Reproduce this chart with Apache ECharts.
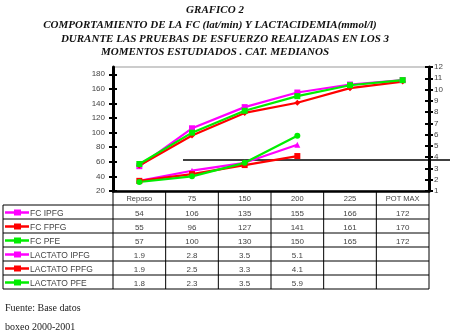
<!DOCTYPE html>
<html><head><meta charset="utf-8">
<script src="https://cdn.jsdelivr.net/npm/echarts@6/dist/echarts.min.js"></script>
<style>html,body{margin:0;padding:0;background:#fff}#c{width:450px;height:336px}</style>
</head><body><div id="c"></div>
<script>
const categories = ['Reposo', '75', '150', '200', '225', 'POT MAX'];
const fcIPFG = [54, 106, 135, 155, 166, 172];
const fcFPFG = [55, 96, 127, 141, 161, 170];
const fcPFE = [57, 100, 130, 150, 165, 172];
const lacIPFG = [1.9, 2.8, 3.5, 5.1];
const lacFPFG = [1.9, 2.5, 3.3, 4.1];
const lacPFE = [1.8, 2.3, 3.5, 5.9];
const fcTicks = [20, 40, 60, 80, 100, 120, 140, 160, 180];
const lacTicks = [1, 2, 3, 4, 5, 6, 7, 8, 9, 10, 11, 12];
const seriesNames = ['FC IPFG', 'FC FPFG', 'FC PFE', 'LACTATO IPFG', 'LACTATO FPFG', 'LACTATO PFE'];
const lactateThreshold = 3.75;
const titleLines = ['GRAFICO 2', 'COMPORTAMIENTO DE LA FC (lat/min) Y LACTACIDEMIA(mmol/l)', 'DURANTE LAS PRUEBAS DE ESFUERZO REALIZADAS EN LOS 3', 'MOMENTOS ESTUDIADOS . CAT. MEDIANOS'];
const footerLines = ['Fuente: Base datos', 'boxeo 2000-2001'];

const defs = [
  { name: seriesNames[0], data: fcIPFG, axis: 0, color: '#ff00ff', symbol: 'rect', dec: 0 },
  { name: seriesNames[1], data: fcFPFG, axis: 0, color: '#ff0000', symbol: 'diamond', dec: 0 },
  { name: seriesNames[2], data: fcPFE, axis: 0, color: '#00ee00', symbol: 'rect', dec: 0 },
  { name: seriesNames[3], data: lacIPFG, axis: 1, color: '#ff00ff', symbol: 'triangle', dec: 1 },
  { name: seriesNames[4], data: lacFPFG, axis: 1, color: '#ff0000', symbol: 'rect', dec: 1 },
  { name: seriesNames[5], data: lacPFE, axis: 1, color: '#00ee00', symbol: 'circle', dec: 1 }
];

const chart = echarts.init(document.getElementById('c'), null, { renderer: 'canvas' });
const lblFont = { fontFamily: 'Liberation Sans, Arial, sans-serif', fontSize: 8, color: '#444' };

function yAx(pos, min, max, ticks, inside, showLabel) {
  return {
    type: 'value', position: pos, min: min, max: max, interval: 1 * (ticks[1] - ticks[0]),
    axisLine: { show: !inside, lineStyle: { color: '#000', width: 3 } },
    axisTick: { show: true, inside: inside, length: 4, customValues: ticks, lineStyle: { color: '#000', width: 2 } },
    axisLabel: Object.assign({ show: showLabel, customValues: ticks, margin: pos === 'left' ? 8 : 5 }, lblFont),
    splitLine: { show: false }
  };
}

chart.setOption({
  animation: false,
  backgroundColor: '#fff',
  grid: { left: 113, right: 21, top: 67, bottom: 145, show: true, borderColor: '#999', borderWidth: 1 },
  xAxis: {
    type: 'category', data: categories, boundaryGap: true,
    axisLine: { lineStyle: { color: '#000', width: 2.5 } },
    axisTick: { show: false },
    axisLabel: Object.assign({ margin: 4, interval: 0 }, lblFont, { fontSize: 7.5 })
  },
  yAxis: [
    yAx('left', 20, 190, fcTicks, false, true),
    yAx('right', 1, 12, lacTicks, false, true),
    yAx('left', 20, 190, fcTicks, true, false),
    yAx('right', 1, 12, lacTicks, true, false)
  ],
  series: defs.map(d => ({
    type: 'line', name: d.name, data: d.data, yAxisIndex: d.axis,
    symbol: d.symbol, symbolSize: 6, showSymbol: true,
    lineStyle: { color: d.color, width: 2.2 },
    itemStyle: { color: d.color, borderWidth: 0 }
  }))
});

// table + decorations derived from axes
const c0 = chart.convertToPixel({ xAxisIndex: 0 }, 0);
const colW = chart.convertToPixel({ xAxisIndex: 0 }, 1) - c0;
const tLeft = c0 - colW / 2;
const tRight = tLeft + colW * categories.length;
const yTop = chart.convertToPixel({ yAxisIndex: 0 }, 20);
const hdrH = 14, rowH = 14;
const rowsTop = yTop + hdrH;
const rowsBottom = rowsTop + rowH * defs.length;
const leftX = 3;
const g = [];
const line = (x1, y1, x2, y2, w, col) => g.push({ type: 'line', shape: { x1, y1, x2, y2 }, style: { stroke: col || '#000', lineWidth: w || 1 }, silent: true });

for (let r = 0; r <= defs.length; r++) line(leftX, rowsTop + r * rowH, tRight, rowsTop + r * rowH, 1);
line(leftX, rowsTop, leftX, rowsBottom, 1);
for (let k = 0; k <= categories.length; k++) line(tLeft + k * colW, yTop, tLeft + k * colW, rowsBottom, 1);

defs.forEach((d, r) => {
  const cy = rowsTop + r * rowH + rowH / 2 + 0.5;
  line(5, cy, 29, cy, 2.5, d.color);
  g.push({ type: 'rect', shape: { x: 14, y: cy - 3, width: 7, height: 6 }, style: { fill: d.color }, silent: true });
  g.push({ type: 'text', x: 30, y: cy + 1, style: { text: d.name, fill: '#444', font: '8.5px "Liberation Sans", Arial, sans-serif', textAlign: 'left', textVerticalAlign: 'middle' }, silent: true });
  d.data.forEach((v, k) => {
    g.push({ type: 'text', x: c0 + k * colW, y: cy + 1, style: { text: v.toFixed(d.dec), fill: '#444', font: '8px "Liberation Sans", Arial, sans-serif', textAlign: 'center', textVerticalAlign: 'middle' }, silent: true });
  });
});

const ty = chart.convertToPixel({ yAxisIndex: 1 }, lactateThreshold);
line(183, ty, 450, ty, 1.5);

const titleX = [215, 210, 225, 215];
const titleY = [10.5, 25.5, 39, 52];
titleLines.forEach((t, i) => {
  g.push({ type: 'text', x: titleX[i], y: titleY[i], style: { text: t, fill: '#111', font: 'italic bold 11px "Liberation Serif", "Times New Roman", serif', textAlign: 'center', textVerticalAlign: 'middle' }, silent: true });
});
footerLines.forEach((t, i) => {
  g.push({ type: 'text', x: 5, y: 308 + i * 19, style: { text: t, fill: '#222', font: '10px "Liberation Serif", "Times New Roman", serif', textAlign: 'left', textVerticalAlign: 'middle' }, silent: true });
});

chart.setOption({ graphic: g });
</script></body></html>
